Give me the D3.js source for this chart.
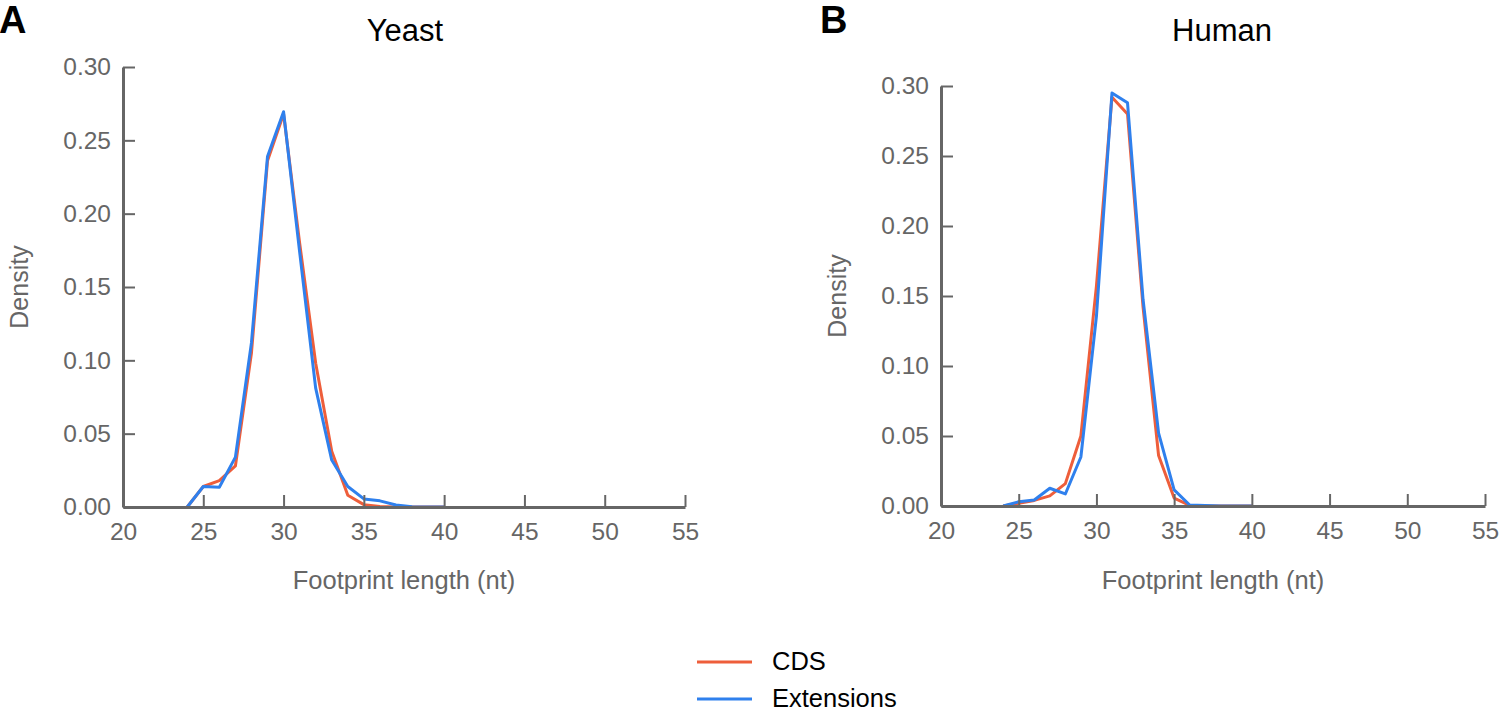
<!DOCTYPE html>
<html>
<head>
<meta charset="utf-8">
<script src="https://cdn.jsdelivr.net/npm/d3@7"></script>
<style>
body { margin: 0; background: #fff; }
svg { font-family: "Liberation Sans", Arial, sans-serif; }
</style>
</head>
<body>
<script>
// footprint lengths (nt)
var lengths = [24, 25, 26, 27, 28, 29, 30, 31, 32, 33, 34, 35, 36, 37, 38, 39, 40];

// yeast densities
var yeastCDS = [0, 0.014, 0.018, 0.028, 0.105, 0.236, 0.268, 0.180, 0.098, 0.038, 0.008, 0.0016, 0.0004, 0, 0, 0, 0];
var yeastExt = [0, 0.014, 0.0135, 0.034, 0.112, 0.239, 0.2695, 0.174, 0.081, 0.032, 0.014, 0.0055, 0.0042, 0.0014, 0.0002, 0, 0];

// human densities
var humanCDS = [0, 0.002, 0.004, 0.0072, 0.016, 0.050, 0.157, 0.292, 0.280, 0.142, 0.036, 0.0057, 0.0005, 0, 0, 0, 0];
var humanExt = [0, 0.003, 0.0043, 0.0127, 0.0086, 0.035, 0.1355, 0.295, 0.288, 0.1475, 0.052, 0.0115, 0.0007, 0.0003, 0, 0, 0];

var xTicks = [20, 25, 30, 35, 40, 45, 50, 55];
var yTicks = [0, 0.05, 0.10, 0.15, 0.20, 0.25, 0.30];
var seriesNames = ["CDS", "Extensions"];
var colors = ["#EE5E3B", "#2F80ED"];
var axisColor = "#666666";

var svg = d3.select("body").append("svg")
    .attr("width", 1500)
    .attr("height", 708);

// disegna un pannello
function drawPanel(letter, title, cds, ext, x0, x1, y0, y1, letterX, titleX) {
    var x = d3.scaleLinear().domain([20, 55]).range([x0, x1]);
    var y = d3.scaleLinear().domain([0, 0.30]).range([y0, y1]);

    var g = svg.append("g");

    // lines first, axes on top
    var line = d3.line()
        .x(function (d, i) { return x(lengths[i]); })
        .y(function (d) { return y(d); });

    [cds, ext].forEach(function (s, k) {
        g.append("path")
            .datum(s)
            .attr("d", line)
            .attr("fill", "none")
            .attr("stroke", colors[k])
            .attr("stroke-width", 3)
            .attr("stroke-linejoin", "round");
    });

    var xAxis = d3.axisBottom(x)
        .tickValues(xTicks)
        .tickSizeInner(-12)
        .tickSizeOuter(0)
        .tickPadding(16)
        .tickFormat(d3.format("d"));

    var yAxis = d3.axisLeft(y)
        .tickValues(yTicks)
        .tickSizeInner(-12)
        .tickSizeOuter(0)
        .tickPadding(12)
        .tickFormat(d3.format(".2f"));

    var gx = g.append("g")
        .attr("transform", "translate(0," + y0 + ")")
        .call(xAxis);
    var gy = g.append("g")
        .attr("transform", "translate(" + x0 + ",0)")
        .call(yAxis);

    [gx, gy].forEach(function (a) {
        a.select(".domain").attr("stroke", axisColor).attr("stroke-width", 3);
        a.selectAll(".tick line").attr("stroke", axisColor).attr("stroke-width", 2);
        a.selectAll(".tick text")
            .attr("fill", axisColor)
            .style("font-size", "24.5px")
            .style("font-family", "'Liberation Sans', Arial, sans-serif");
    });

    // titoli
    g.append("text")
        .attr("x", letterX)
        .attr("y", 33)
        .attr("font-size", 38)
        .attr("font-weight", "bold")
        .attr("fill", "#000")
        .text(letter);

    g.append("text")
        .attr("x", titleX)
        .attr("y", 41)
        .attr("text-anchor", "middle")
        .attr("font-size", 31)
        .attr("fill", "#000")
        .text(title);

    g.append("text")
        .attr("x", (x0 + x1) / 2)
        .attr("y", 589)
        .attr("text-anchor", "middle")
        .attr("font-size", 25.5)
        .attr("fill", axisColor)
        .text("Footprint length (nt)");

    g.append("text")
        .attr("transform", "translate(" + (x0 - 95) + "," + ((y0 + y1) / 2) + ") rotate(-90)")
        .attr("text-anchor", "middle")
        .attr("font-size", 25)
        .attr("fill", axisColor)
        .text("Density");
}

drawPanel("A", "Yeast", yeastCDS, yeastExt, 123, 685, 507, 67, -1, 405);
drawPanel("B", "Human", humanCDS, humanExt, 941, 1485, 506, 86, 820, 1222);

// legenda
var legend = svg.append("g");
seriesNames.forEach(function (name, k) {
    var ly = 662 + k * 37;
    legend.append("line")
        .attr("x1", 697).attr("x2", 752)
        .attr("y1", ly).attr("y2", ly)
        .attr("stroke", colors[k])
        .attr("stroke-width", 3);
    legend.append("text")
        .attr("x", 772)
        .attr("y", ly + 8)
        .attr("font-size", 25.5)
        .attr("fill", "#000")
        .text(name);
});
</script>
</body>
</html>
